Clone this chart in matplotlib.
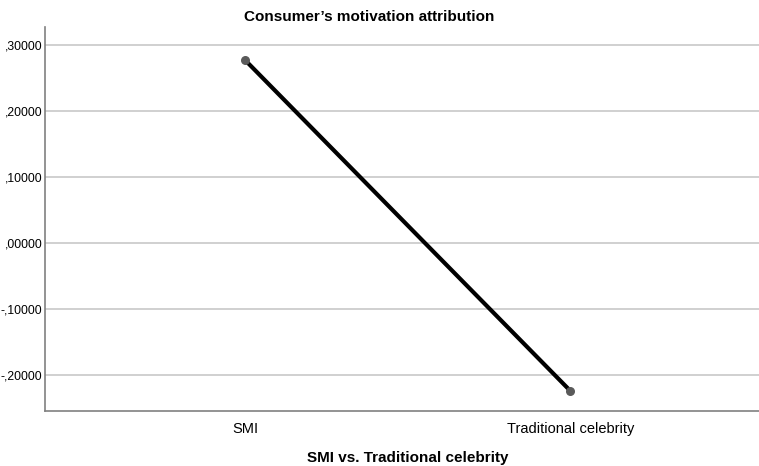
import matplotlib.pyplot as plt

plt.rcParams['font.family'] = ['Liberation Sans', 'DejaVu Sans']

groups = ["SMI", "Traditional celebrity"]
means = [0.277, -0.224]
yticks = [-0.2, -0.1, 0.0, 0.1, 0.2, 0.3]


def spss_fmt(v):
    s = "%.5f" % v
    s = s.replace("0.", ".", 1).replace(".", ",")
    return s


fig = plt.figure(figsize=(7.59, 4.66), dpi=100)
ax = fig.add_axes([0.0593, 0.118, 0.9407, 0.824])

x = list(range(len(groups)))
ax.plot(x, means, color='black', lw=3, zorder=3)
ax.scatter(x, means, s=30, color='#5a5a5a', zorder=4)

ax.set_xlim(-0.615, 0.58 + 1)
ax.set_ylim(-0.2545, 0.327)
ax.set_xticks(x)
ax.set_xticklabels(groups, fontsize=10.5)
ax.set_yticks(yticks)
ax.set_yticklabels([spss_fmt(v) for v in yticks], fontsize=8.7)
ax.tick_params(axis='x', length=0, pad=8)
ax.tick_params(axis='y', length=0, pad=2)

ax.grid(axis='y', color='#c8c8c8', lw=1.2)
ax.set_axisbelow(True)
for side in ['top', 'right']:
    ax.spines[side].set_visible(False)
for side in ['left', 'bottom']:
    ax.spines[side].set_color('#808080')
    ax.spines[side].set_linewidth(1.2)

fig.text(0.486, 0.9635, "Consumer\u2019s motivation attribution", ha='center', va='center',
         fontsize=11, fontweight='bold')
fig.text(0.5375, 0.017, "SMI vs. Traditional celebrity", ha='center', va='center',
         fontsize=11, fontweight='bold')

fig.savefig("out.png", dpi=100)
